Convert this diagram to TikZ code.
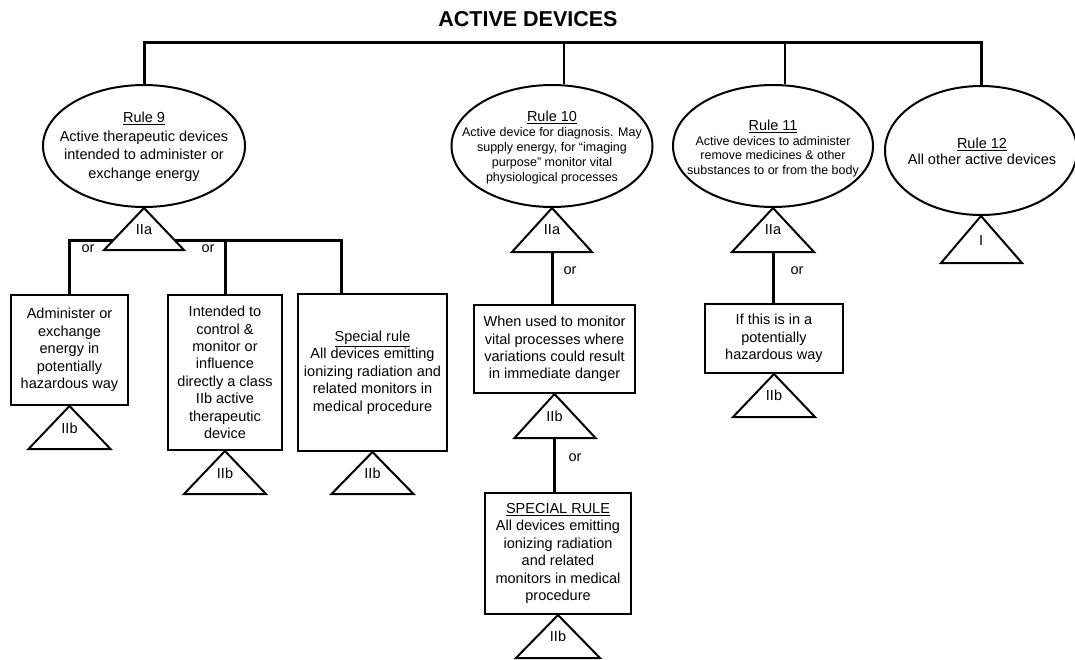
\documentclass[tikz,border=0pt]{standalone}
\usepackage{fontspec}
\setmainfont{Liberation Sans}
\usepackage{tikz}
\usetikzlibrary{shapes.geometric,positioning,calc}
\tikzset{
  ruleoval/.style={ellipse, draw, line width=2pt, minimum width=202pt,
                   minimum height=122pt, inner sep=0pt},
  ruletext/.style={align=center, inner sep=0pt,
                   font=\fontsize{14.5}{18.5}\selectfont},
  smalltext/.style={align=center, inner sep=0pt,
                    font=\fontsize{12.5}{14.8}\selectfont},
  casebox/.style={rectangle, draw, line width=2pt, align=center, inner sep=0pt,
                  font=\fontsize{14.5}{17.4}\selectfont},
  classtri/.style={draw, line width=2pt, line join=miter},
  classlbl/.style={inner sep=0pt, font=\fontsize{14.5}{17}\selectfont},
  orlbl/.style={inner sep=0pt, font=\fontsize{14.5}{17}\selectfont},
  busline/.style={line width=3pt},
  dropline/.style={line width=1.3pt},
  branch/.style={line width=3pt},
}

\begin{document}
\begin{tikzpicture}[x=1pt,y=-1pt]
  \useasboundingbox (0,0) rectangle (1075,659);

  \node[font=\bfseries\fontsize{21.5}{24}\selectfont] (title) at (528,19.5) {ACTIVE DEVICES};

  % the four rules
  \node[ruleoval] (r9) at (144,146) {};
  \node[ruletext] (r9t) at (144,146.5) {\underline{Rule 9}\\ Active therapeutic devices\\ intended to administer or\\ exchange energy};
  \node[ruleoval, minimum width=201pt] (r10) at (552,146) {};
  \node[smalltext] (r10t) at (552,147.5) {{\fontsize{14.5}{16}\selectfont\underline{Rule 10}}\\ Active device for diagnosis. May\\ supply energy, for ``imaging\\ purpose'' monitor vital\\ physiological processes};
  \node[ruleoval, minimum width=200pt] (r11) at (773,146) {};
  \node[smalltext] (r11t) at (773,148.5) {{\fontsize{14.5}{16}\selectfont\underline{Rule 11}}\\ Active devices to administer\\ remove medicines \& other\\ substances to or from the body};
  \node[ruleoval, minimum width=192pt, minimum height=129pt] (r12) at (981,150.5) {};
  \node[ruletext, font=\fontsize{14.5}{16}\selectfont] (r12t) at (982,151) {\underline{Rule 12}\\ All other active devices};

  % top bus
  \coordinate (bus) at (528,42);
  \draw[busline] (r9.north) |- (bus) -| (r12.north);
  \coordinate (d10) at (564,42);
  \coordinate (d11) at (785,42);
  \draw[dropline] (d10) -- (d10 |- r10.north);
  \draw[dropline] (d11) -- (d11 |- r11.north);

  % sub cases
  \node[casebox, minimum width=117pt, minimum height=110pt] (adm) at (69.5,350) {Administer or\\ exchange\\ energy in\\ potentially\\ hazardous way};
  \node[casebox, minimum width=114pt, minimum height=155pt] (ctl) at (225,372.5) {Intended to\\ control \&\\ monitor or\\ influence\\ directly a class\\ IIb active\\ therapeutic\\ device};
  \node[casebox, minimum width=149pt, minimum height=157pt] (spc) at (372.5,372.5) {\underline{Special rule}\\ All devices emitting\\ ionizing radiation and\\ related monitors in\\ medical procedure};
  \node[casebox, minimum width=161pt, minimum height=88pt] (mon) at (554.5,349) {When used to monitor\\ vital processes where\\ variations could result\\ in immediate danger};
  \node[casebox, minimum width=146pt, minimum height=121pt] (rad) at (558,553.5) {\underline{SPECIAL RULE}\\ All devices emitting\\ ionizing radiation\\ and related\\ monitors in medical\\ procedure};
  \node[casebox, minimum width=138pt, minimum height=69pt] (haz) at (774,338.5) {If this is in a\\ potentially\\ hazardous way};

  % class triangles
  \draw[classtri] (r9.south) -- ++(-40,42) -- ++(80,0) -- cycle;
  \node[classlbl] (c9) at ([yshift=-22pt]r9.south) {IIa};
  \draw[classtri] (r10.south) -- ++(-40,44) -- ++(80,0) -- cycle;
  \node[classlbl] (c10) at ([yshift=-22pt]r10.south) {IIa};
  \draw[classtri] (r11.south) -- ++(-41,44) -- ++(82,0) -- cycle;
  \node[classlbl] (c11) at ([yshift=-22pt]r11.south) {IIa};
  \draw[classtri] (r12.south) -- ++(-40,47) -- ++(81,0) -- cycle;
  \node[classlbl] (c12) at ([yshift=-25pt]r12.south) {I};
  \draw[classtri] (adm.south) -- ++(-41,43) -- ++(82,0) -- cycle;
  \node[classlbl] (cadm) at ([yshift=-22pt]adm.south) {IIb};
  \draw[classtri] (ctl.south) -- ++(-41,43) -- ++(82,0) -- cycle;
  \node[classlbl] (cctl) at ([yshift=-22pt]ctl.south) {IIb};
  \draw[classtri] (spc.south) -- ++(-41,42) -- ++(82,0) -- cycle;
  \node[classlbl] (cspc) at ([yshift=-21pt]spc.south) {IIb};
  \draw[classtri] (mon.south) -- ++(-40,44) -- ++(81,0) -- cycle;
  \node[classlbl] (cmon) at ([yshift=-22pt]mon.south) {IIb};
  \draw[classtri] (rad.south) -- ++(-42,43) -- ++(84,0) -- cycle;
  \node[classlbl] (crad) at ([yshift=-21pt]rad.south) {IIb};
  \draw[classtri] (haz.south) -- ++(-41,43) -- ++(82,0) -- cycle;
  \node[classlbl] (chaz) at ([yshift=-21pt]haz.south) {IIb};

  % Rule 9 branches
  \coordinate (s9l) at (113,240);
  \coordinate (s9r) at (175,240);
  \coordinate (j9) at (341,240);
  \draw[branch] (s9l) -| (adm.north);
  \draw[branch] (s9r) -- (j9) -- (j9 |- spc.north);
  \draw[branch] (ctl.north |- s9r) -- (ctl.north);
  \node[orlbl] (or9a) at (88,249) {or};
  \node[orlbl] (or9b) at (208,249) {or};

  % Rule 10 and 11 branches
  \coordinate (b10) at ($(r10.south)+(0,44)$);
  \coordinate (b10m) at ($(mon.south)+(0,44)$);
  \coordinate (b11) at ($(r11.south)+(0,44)$);
  \draw[branch] (b10) -- (b10 |- mon.north);
  \draw[branch] (b10m) -- (b10m |- rad.north);
  \draw[branch] (b11) -- (b11 |- haz.north);
  \node[orlbl] (or10) at (570,271) {or};
  \node[orlbl] (or10m) at (575,458) {or};
  \node[orlbl] (or11) at (797,271) {or};
\end{tikzpicture}
\end{document}
